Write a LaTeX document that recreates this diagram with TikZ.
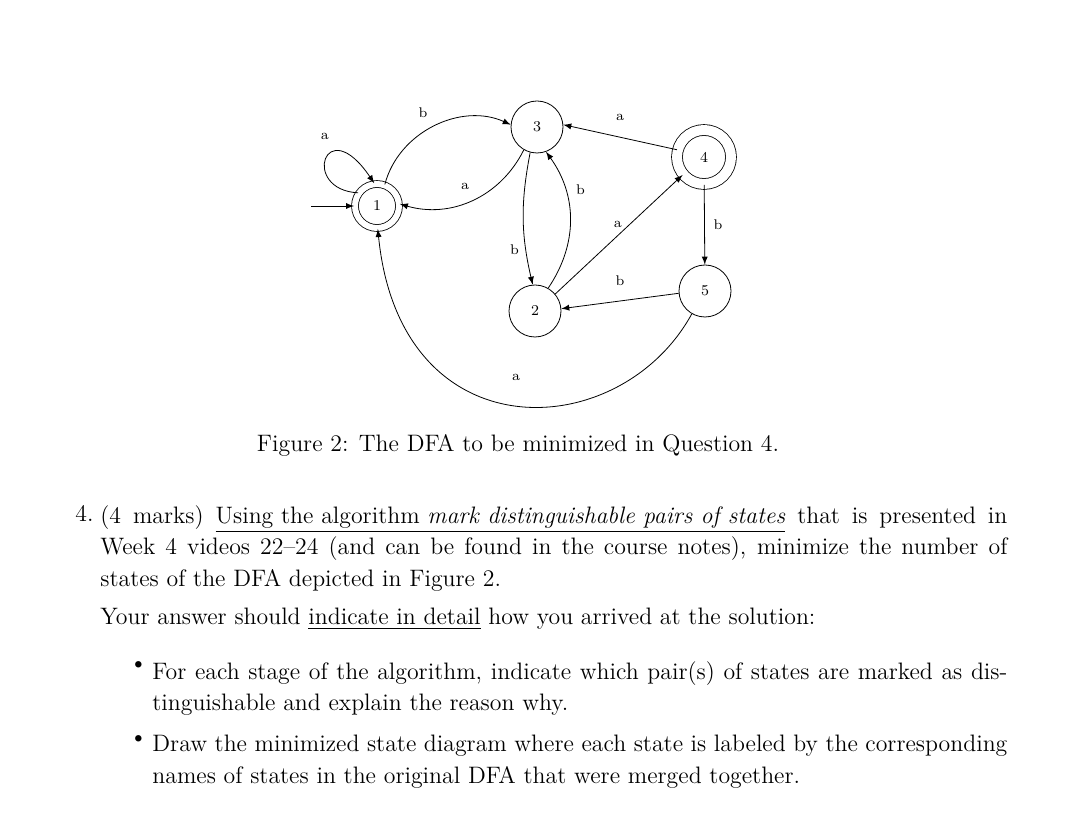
\documentclass[tikz,border=0pt]{standalone}
\usepackage{tikz}
\usetikzlibrary{automata,positioning,arrows}
\tikzstyle{st} = [state, minimum size=26pt, inner sep=0pt, thin, font=\fontsize{7.5}{9}\selectfont]
\tikzstyle{acc} = [st, accepting, minimum size=22pt, double distance=3pt]
\tikzstyle{arrow} = [thin,->,>=latex]
\tikzstyle{lbl} = [font=\fontsize{7}{8}\selectfont]
\tikzstyle{para} = [anchor=north west, inner sep=0pt, align=justify, font=\fontsize{11.9}{15.7}\selectfont]
\begin{document}
\begin{tikzpicture}[x=0.5pt, y=-0.5pt]
	\useasboundingbox (0,0) rectangle (1089,818);
	
	\node (one) [acc] at (377,206) {1};
	\node (three) [st] at (537,127) {3};
	\node (four) [acc, minimum size=27pt, double distance=5pt] at (704,157) {4};
	\node (two) [st] at (535,311) {2};
	\node (five) [st] at (705,291) {5};
	\coordinate (start) at (311,206);
	
	\draw [arrow] (start) -- (one);
	\draw [arrow] (one.145) .. controls (300,190) and (325,110) .. node[lbl, above=8pt, pos=0.45]{a} (one.97);
	\draw [arrow] (one.70) to[bend left=50] node[lbl, above left=1pt and 0pt]{b} (three.175);
	\draw [arrow] (three.240) to[bend left=40] node[lbl, above left=2pt and -2pt]{a} (one.5);
	\draw [arrow] (three.255) to[bend right=12] node[lbl, left=0pt, pos=0.75]{b} (two.95);
	\draw [arrow] (two.60) to[bend right=35] node[lbl, right=2pt, pos=0.72]{b} (three.290);
	\draw [arrow] (four.165) -- node[lbl, above=5pt]{a} (three.5);
	\draw [arrow] (two.40) -- node[lbl, above left=0pt and -5pt]{a} (four.220);
	\draw [arrow] (four) -- node[lbl, right=1pt]{b} (five);
	\draw [arrow] (five.185) -- node[lbl, above=4pt]{b} (two.5);
	\draw [arrow] (five.240) .. controls (620,445) and (400,455) .. node[lbl, above=9pt, pos=0.5]{a} (one.272);
	
	\node (caption) [font=\fontsize{11.9}{14}\selectfont] at (518,445) {Figure 2: The DFA to be minimized in Question 4.};
	
	\node (num) [para, align=left] at (75,505) {4.};
	\node (question) [para, text width=453.5pt] at (100,505) {(4 marks) \underline{Using the algorithm \emph{mark distinguishable pairs of states}} that is presented in Week 4 videos 22--24 (and can be found in the course notes), minimize the number of states of the DFA depicted in Figure~2.};
	\node (answer) [para, text width=453.5pt] at (100,608) {Your answer should \underline{indicate in detail} how you arrived at the solution:};
	\node (bulletA) [para, align=left] at (129,661) {\textbullet};
	\node (itemA) [para, text width=427.5pt] at (152,661) {For each stage of the algorithm, indicate which pair(s) of states are marked as dis\-tinguishable and explain the reason why.};
	\node (bulletB) [para, align=left] at (129,735) {\textbullet};
	\node (itemB) [para, text width=427.5pt] at (152,735) {Draw the minimized state diagram where each state is labeled by the corresponding names of states in the original DFA that were merged together.};
\end{tikzpicture}
\end{document}
